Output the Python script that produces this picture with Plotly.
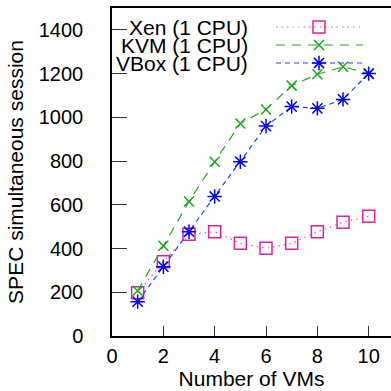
import plotly.graph_objects as go

# ---- data ----
vms = [1, 2, 3, 4, 5, 6, 7, 8, 9, 10]
xen = [198, 340, 465, 477, 424, 401, 424, 477, 520, 548]
kvm = [207, 413, 615, 797, 972, 1036, 1145, 1197, 1231, 1200]
vbox = [157, 317, 477, 638, 797, 960, 1049, 1041, 1082, 1200]
names = ["Xen (1 CPU)", "KVM (1 CPU)", "VBox (1 CPU)"]
x_ticks = [0, 2, 4, 6, 8, 10]
y_ticks = [0, 200, 400, 600, 800, 1000, 1200, 1400]

FONT = "Liberation Sans, Arial, sans-serif"
W, H = 391, 391
ML, MT, MB, MR = 112, 8, 55, 0
PW, PH = W - ML - MR, H - MT - MB

styles = [
    dict(line=dict(color="#f04aae", width=1.2, dash="1.5px,4px"),
         marker=dict(symbol="square-open", size=12, color="#e0209a", line=dict(width=1.5, color="#e0209a"))),
    dict(line=dict(color="#22a822", width=1.2, dash="9px,7px"),
         marker=dict(symbol="x-thin-open", size=10, color="#18a818", line=dict(width=1.5, color="#18a818"))),
    dict(line=dict(color="#2040ff", width=1.2, dash="5px,4px"),
         marker=dict(symbol="asterisk-open", size=12, color="#0000ff", line=dict(width=1.5, color="#0000ff"))),
]

fig = go.Figure()
for ys, st, nm in zip([xen, kvm, vbox], styles, names):
    fig.add_trace(go.Scatter(x=vms, y=ys, mode="lines+markers", name=nm,
                             showlegend=False, hoverinfo="skip", **st))

# ---- custom legend (text on the left, sample on the right), pixel units inside plot ----
LEG_TEXT_X = 138
LEG_LINE_X0, LEG_LINE_X1, LEG_MARK_X = 164, 251, 207
LEG_ROWS = [19, 37, 55]
for st, nm, ry in zip(styles, names, LEG_ROWS):
    fig.add_trace(go.Scatter(x=[LEG_LINE_X0, LEG_LINE_X1], y=[ry, ry], mode="lines",
                             line=st["line"], xaxis="x3", yaxis="y3",
                             showlegend=False, hoverinfo="skip"))
    fig.add_trace(go.Scatter(x=[LEG_MARK_X], y=[ry], mode="markers",
                             marker=st["marker"], xaxis="x3", yaxis="y3",
                             showlegend=False, hoverinfo="skip"))
    fig.add_annotation(x=LEG_TEXT_X, y=ry, xref="x3", yref="y3", text=nm,
                       showarrow=False, xanchor="right", yanchor="middle",
                       font=dict(family=FONT, size=21, color="black"))

xr = [0, PW / 25.67]
yr = [0, 1500]
tickfont = dict(family=FONT, size=20, color="black")

fig.update_layout(
    width=W, height=H,
    margin=dict(l=ML, r=MR, t=MT, b=MB, pad=0),
    paper_bgcolor="white", plot_bgcolor="white",
    showlegend=False,
    xaxis=dict(range=xr, tickvals=x_ticks, ticks="inside", ticklen=10, tickwidth=1,
               tickcolor="#333", showline=True, linecolor="black", linewidth=1.5,
               mirror=True, showgrid=False, zeroline=False, tickfont=tickfont,
               ticklabelstandoff=1, automargin=False,
               title=dict(text="Number of VMs", font=dict(family=FONT, size=21, color="black"),
                          standoff=2)),
    yaxis=dict(range=yr, tickvals=y_ticks, ticks="inside", ticklen=15, tickwidth=1,
               tickcolor="#333", showline=True, linecolor="black", linewidth=1.5,
               mirror=False, showgrid=False, zeroline=False, tickfont=tickfont,
               ticklabelstandoff=23, automargin=False,
               title=dict(text="SPEC simultaneous session",
                          font=dict(family=FONT, size=21, color="black"), standoff=9)),
    xaxis2=dict(range=xr, tickvals=x_ticks, ticks="inside", ticklen=9, tickwidth=1,
                tickcolor="#333", overlaying="x", side="top", anchor="y",
                showticklabels=False, showline=False, showgrid=False, zeroline=False),
    yaxis2=dict(range=yr, tickvals=y_ticks, ticks="inside", ticklen=12, tickwidth=1,
                tickcolor="#333", overlaying="y", side="right", anchor="x",
                showticklabels=False, showline=False, showgrid=False, zeroline=False),
    xaxis3=dict(range=[0, PW], overlaying="x", anchor="y3", visible=False),
    yaxis3=dict(range=[PH, 0], overlaying="y", anchor="x3", visible=False),
)

fig.write_html("out.html", config={"displayModeBar": False},
               post_script="document.body.style.margin='0';")
